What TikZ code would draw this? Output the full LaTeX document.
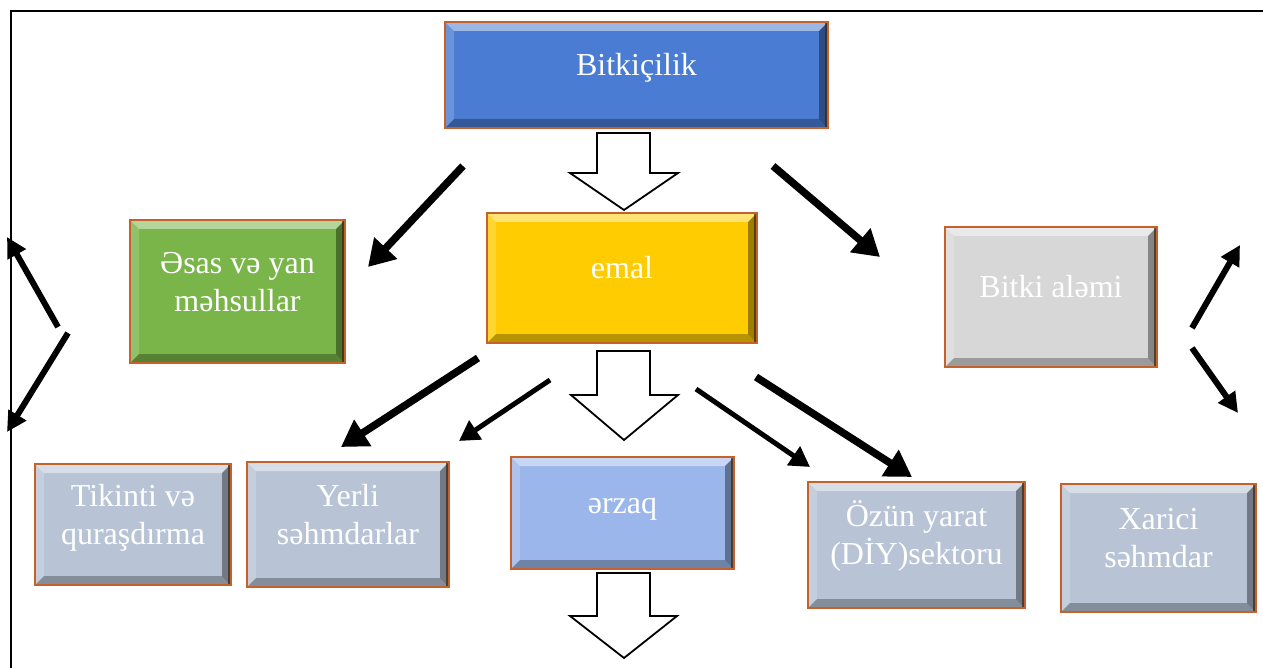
\documentclass[tikz,border=0pt]{standalone}
\usepackage{fontspec}
\setmainfont{Liberation Serif}
\usetikzlibrary{arrows.meta}
\definecolor{cblue}{HTML}{4A7CD3}
\definecolor{cgreen}{HTML}{79B548}
\definecolor{cyellow}{HTML}{FFCC02}
\definecolor{cgray}{HTML}{D7D7D7}
\definecolor{cslate}{HTML}{B8C4D6}
\definecolor{clight}{HTML}{9BB6EA}
\definecolor{cedge}{HTML}{C4622A}
\newcommand\uptext[1]{\raisebox{7pt}[\height][\depth]{\begin{tabular}{@{}c@{}}#1\end{tabular}}}
\tikzset{
  bevbox/.style={draw=cedge, line width=1.6pt, text=white, inner sep=0pt,
    font=\fontsize{32}{38}\selectfont,
    path picture={
      \fill[white,opacity=.45] (path picture bounding box.north west) -- (path picture bounding box.north east)
        -- ([xshift=-9pt,yshift=-9pt]path picture bounding box.north east) -- ([xshift=9pt,yshift=-9pt]path picture bounding box.north west) -- cycle;
      \fill[white,opacity=.18] (path picture bounding box.north west) -- ([xshift=9pt,yshift=-9pt]path picture bounding box.north west)
        -- ([xshift=9pt,yshift=9pt]path picture bounding box.south west) -- (path picture bounding box.south west) -- cycle;
      \fill[black,opacity=.38] (path picture bounding box.north east) -- (path picture bounding box.south east)
        -- ([xshift=-9pt,yshift=9pt]path picture bounding box.south east) -- ([xshift=-9pt,yshift=-9pt]path picture bounding box.north east) -- cycle;
      \fill[black,opacity=.28] (path picture bounding box.south west) -- (path picture bounding box.south east)
        -- ([xshift=-9pt,yshift=9pt]path picture bounding box.south east) -- ([xshift=9pt,yshift=9pt]path picture bounding box.south west) -- cycle;
      \fill[black!70!brown,opacity=.7] ([xshift=-3pt]path picture bounding box.north east) rectangle (path picture bounding box.south east);
    }},
  thickarr/.style={line width=7.5pt, -{Triangle[length=26pt,width=30pt]}},
  thinarr/.style={line width=5pt, -{Triangle[length=20pt,width=22pt]}},
  sidearr/.style={line width=6pt, -{Triangle[length=20pt,width=20pt]}},
  blockarr/.style={draw=black, line width=1.8pt, fill=white, line join=miter},
  frameline/.style={line width=2.5pt}
}
\begin{document}
\begin{tikzpicture}[x=1pt,y=-1pt]
\useasboundingbox (0,0) rectangle (1263,668);
% frame
\coordinate (fTR) at (1263,11);
\coordinate (fTL) at (11,11);
\coordinate (fBL) at (11,668);
\draw[frameline] (fTR) -- (fTL) -- (fBL);
% boxes
\node[bevbox, fill=cblue, minimum width=383pt, minimum height=106pt] (bitk) at (636.5,75) {\uptext{Bitkiçilik}};
\node[bevbox, fill=cgreen, minimum width=215pt, minimum height=143pt] (esas) at (237.5,291.5) {\uptext{Əsas və yan\\məhsullar}};
\node[bevbox, fill=cyellow, minimum width=270pt, minimum height=130pt] (emal) at (622,278) {\uptext{emal}};
\node[bevbox, fill=cgray, minimum width=212pt, minimum height=140pt] (alem) at (1051,297) {\uptext{Bitki aləmi}};
\node[bevbox, fill=cslate, minimum width=196pt, minimum height=121pt] (tik) at (133,524.5) {\uptext{Tikinti və\\quraşdırma}};
\node[bevbox, fill=cslate, minimum width=202pt, minimum height=125pt] (yerli) at (348,524.5) {\uptext{Yerli\\səhmdarlar}};
\node[bevbox, fill=clight, minimum width=223pt, minimum height=112pt] (erzaq) at (622.5,513) {\uptext{ərzaq}};
\node[bevbox, fill=cslate, minimum width=217pt, minimum height=126pt] (ozun) at (916.5,545) {\uptext{Özün yarat\\(DİY)sektoru}};
\node[bevbox, fill=cslate, minimum width=195pt, minimum height=128pt] (xarici) at (1158.5,548) {\uptext{Xarici\\səhmdar}};
% block arrows
\draw[blockarr] (597,133) -- (650,133) -- (650,173) -- (678,173) -- (624,210) -- (570,173) -- (597,173) -- cycle;
\draw[blockarr] (597,351) -- (650,351) -- (650,395) -- (678,395) -- (624,440) -- (571,395) -- (597,395) -- cycle;
\draw[blockarr] (597,573) -- (650,573) -- (650,616) -- (677,616) -- (624,658) -- (570,616) -- (597,616) -- cycle;
% arrow endpoints
\coordinate (b1s) at (463,166); \coordinate (b1e) at (368,267);
\coordinate (b2s) at (773,166); \coordinate (b2e) at (880,257);
\coordinate (e1s) at (478,358); \coordinate (e1e) at (341,447);
\coordinate (e2s) at (550,380); \coordinate (e2e) at (459,441);
\coordinate (e3s) at (696,389); \coordinate (e3e) at (810,467);
\coordinate (e4s) at (756,377); \coordinate (e4e) at (912,477);
\coordinate (l1s) at (58,327);  \coordinate (l1e) at (7,237);
\coordinate (l2s) at (68,333);  \coordinate (l2e) at (7,432);
\coordinate (r1s) at (1192,328); \coordinate (r1e) at (1240,245);
\coordinate (r2s) at (1192,348); \coordinate (r2e) at (1238,413);
\draw[thickarr] (b1s) -- (b1e);
\draw[thickarr] (b2s) -- (b2e);
\draw[thickarr] (e1s) -- (e1e);
\draw[thinarr] (e2s) -- (e2e);
\draw[thinarr] (e3s) -- (e3e);
\draw[thickarr] (e4s) -- (e4e);
\draw[sidearr] (l1s) -- (l1e);
\draw[sidearr] (l2s) -- (l2e);
\draw[sidearr] (r1s) -- (r1e);
\draw[sidearr] (r2s) -- (r2e);
\end{tikzpicture}
\end{document}
